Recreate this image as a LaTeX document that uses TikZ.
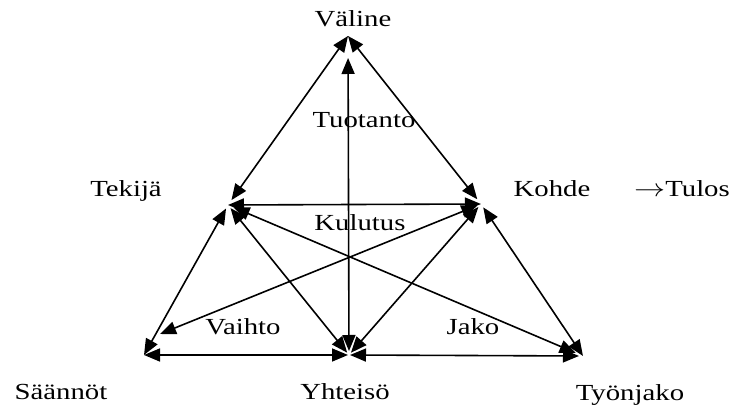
\documentclass[tikz,border=0pt]{standalone}
\usepackage{fontspec}
\setmainfont{Liberation Serif}
\usetikzlibrary{arrows.meta}
\begin{document}
\begin{tikzpicture}[x=1pt,y=1pt,every node/.style={font=\fontsize{23}{26}\selectfont,xscale=1.25,inner sep=0pt,anchor=base},link/.style={{Triangle[length=16pt,width=13pt]}-{Triangle[length=16pt,width=13pt]},line width=1.6pt}]
\useasboundingbox (0,0) rectangle (729,-411);
\coordinate (pV) at (348,-36);
\coordinate (pT) at (228,-205);
\coordinate (pK) at (481,-204);
\coordinate (pS) at (144,-355);
\coordinate (pY) at (349,-355);
\coordinate (pJ) at (583,-356);
\coordinate (pVaihto) at (160,-334);
\node (valine) at (353,-27) {Väline};
\node (tekija) at (126,-197) {Tekijä};
\node (kohde) at (552,-197) {Kohde};
\node (tulos) at (682,-197) {$\rightarrow$Tulos};
\node (saannot) at (61,-400) {Säännöt};
\node (yhteiso) at (345,-400) {Yhteisö};
\node (tyonjako) at (630,-401) {Työnjako};
\node (tuotanto) at (364,-128) {Tuotanto};
\node (kulutus) at (360,-231) {Kulutus};
\node (vaihto) at (243,-335) {Vaihto};
\node (jako) at (473,-335) {Jako};
\draw[link,shorten <=6pt] (pT) -- (pV);
\draw[link,shorten >=6pt] (pV) -- (pK);
\draw[link,shorten <=4pt,shorten >=22pt] (pY) -- (pV);
\draw[link] (pT) -- (pK);
\draw[link,shorten <=4pt] (pT) -- (pS);
\draw[link,shorten <=4pt,shorten >=3pt] (pT) -- (pY);
\draw[link,shorten <=6pt,shorten >=8pt] (pT) -- (pJ);
\draw[link,shorten <=4pt] (pK) -- (pVaihto);
\draw[link,shorten <=4pt,shorten >=3pt] (pK) -- (pY);
\draw[link,shorten <=4pt] (pK) -- (pJ);
\draw[link,shorten >=1pt] (pS) -- (pY);
\draw[link,shorten <=1pt,shorten >=4pt] (pY) -- (pJ);
\end{tikzpicture}
\end{document}
